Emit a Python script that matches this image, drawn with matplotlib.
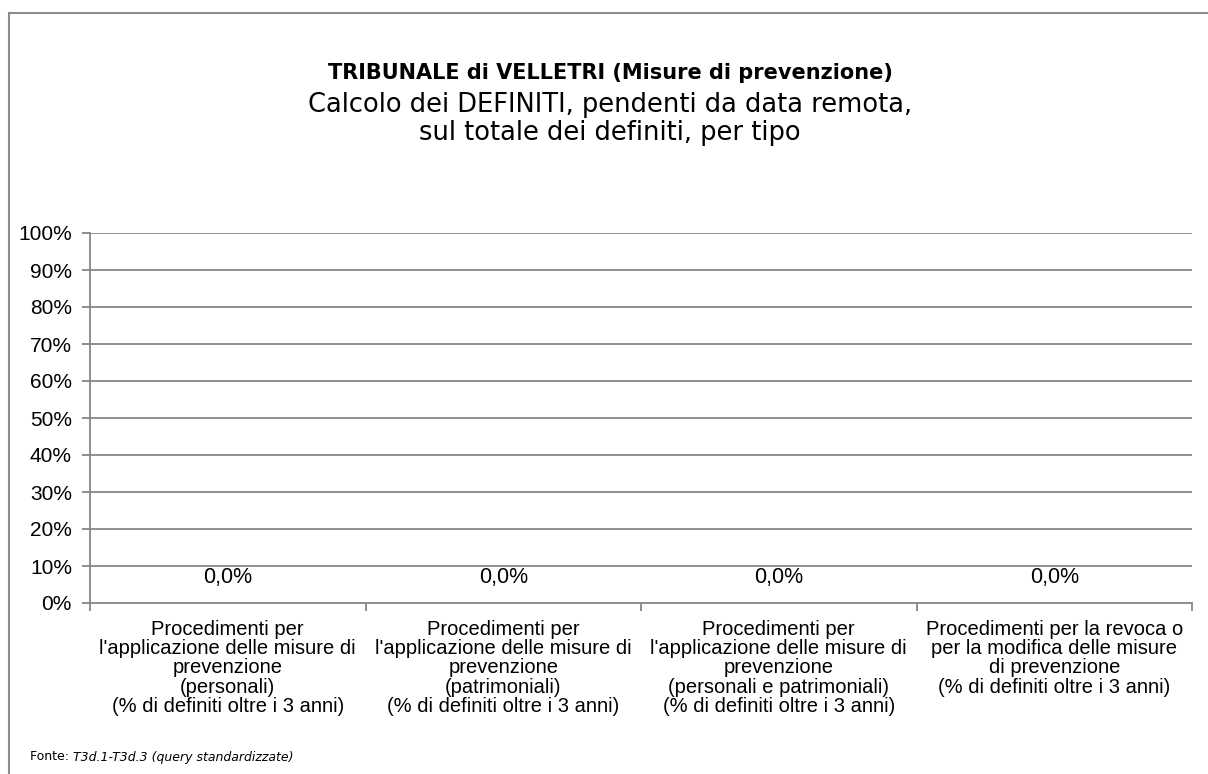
import matplotlib.pyplot as plt
from matplotlib.patches import Rectangle

# Chart data
categories = [
    "Procedimenti per\nl'applicazione delle misure di\nprevenzione\n(personali)\n(% di definiti oltre i 3 anni)",
    "Procedimenti per\nl'applicazione delle misure di\nprevenzione\n(patrimoniali)\n(% di definiti oltre i 3 anni)",
    "Procedimenti per\nl'applicazione delle misure di\nprevenzione\n(personali e patrimoniali)\n(% di definiti oltre i 3 anni)",
    "Procedimenti per la revoca o\nper la modifica delle misure\ndi prevenzione\n(% di definiti oltre i 3 anni)",
]
values = [0.0, 0.0, 0.0, 0.0]
y_ticks = [i * 10 for i in range(11)]

W, H = 1208, 774
fig = plt.figure(figsize=(W / 100, H / 100), dpi=100)

grid_col = '#868686'
arial = 'Liberation Sans'

# Outer chart border (runs past right/bottom edges)
fig.add_artist(Rectangle((8.5 / W, -0.05), 1.2, 1 - 13 / H + 0.05,
                         transform=fig.transFigure, fill=False,
                         edgecolor='#8c8c8c', linewidth=1.5))

ax = fig.add_axes([90 / W, 1 - 603 / H, (1192 - 90) / W, (603 - 233) / H])

x = list(range(len(categories)))
ax.bar(x, values, width=0.5, color='#4f81bd')

ax.set_xlim(-0.5, len(categories) - 0.5)
ax.set_ylim(0, 100)
ax.set_yticks(y_ticks)
ax.set_yticklabels([f"{t}%" for t in y_ticks], fontsize=15, family=arial)

# horizontal gridlines
for t in y_ticks[1:]:
    ax.axhline(t, color=grid_col, linewidth=1.3, zorder=0)

for s in ['top', 'right']:
    ax.spines[s].set_visible(False)
for s in ['left', 'bottom']:
    ax.spines[s].set_color(grid_col)
    ax.spines[s].set_linewidth(1.3)

ax.tick_params(axis='y', length=6, color=grid_col, width=1.3, pad=7)

# category labels centred, ticks on the boundaries
ax.set_xticks(x)
ax.set_xticklabels(categories, fontsize=14.5, family=arial,
                   linespacing=1.02, va='top')
ax.tick_params(axis='x', which='major', length=0, pad=12)
ax.set_xticks([i - 0.5 for i in range(len(categories) + 1)], minor=True)
ax.tick_params(axis='x', which='minor', length=6, color=grid_col, width=1.3)

# data labels
for xi, v in zip(x, values):
    ax.annotate(f"{v:.1f}%".replace('.', ','), (xi, v), xytext=(0, 18),
                textcoords='offset points', ha='center', va='center',
                fontsize=15.5, family=arial)

# Titles
fig.text(610 / W, 1 - 73 / H, "TRIBUNALE di VELLETRI (Misure di prevenzione)",
         ha='center', va='center', fontsize=15, fontweight='bold')
fig.text(610 / W, 1 - 119 / H, "Calcolo dei DEFINITI, pendenti da data remota,\nsul totale dei definiti, per tipo",
         ha='center', va='center', fontsize=18.5, linespacing=1.15)

# source note
t1 = fig.text(30 / W, 1 - 757 / H, "Fonte: ", ha='left', va='center', fontsize=9)
fig.canvas.draw()
bb = t1.get_window_extent()
fig.text(bb.x1 / W, 1 - 757 / H, "T3d.1-T3d.3 (query standardizzate)",
         ha='left', va='center', fontsize=9, style='italic')

fig.savefig('out.png', dpi=100)
